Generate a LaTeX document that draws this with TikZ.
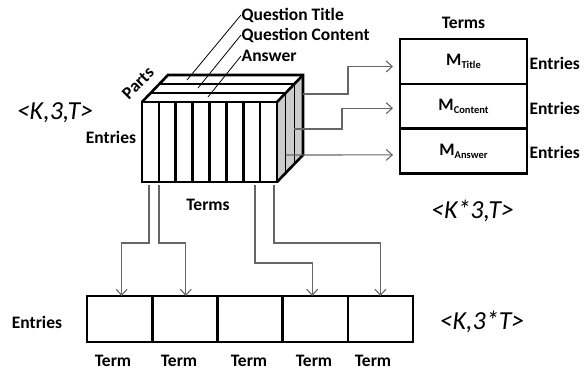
\documentclass[tikz,border=0pt]{standalone}
\usepackage{fontspec}
\setmainfont{Carlito}
\usepackage{tikz}
\usetikzlibrary{calc,arrows.meta,positioning}
\definecolor{sidegray}{RGB}{204,204,204}
\newcommand{\msub}[1]{M{\fontsize{10.5}{12}\selectfont\raisebox{-3pt}{#1}}}

\begin{document}
\begin{tikzpicture}[x=1pt,y=-1pt,>={Straight Barb[length=6pt,width=11pt]},
    lbl/.style={font=\fontsize{17.5}{19}\selectfont\bfseries,inner sep=0.5pt},
    tag/.style={font=\fontsize{26}{30}\selectfont\itshape,inner sep=0pt},
    cell/.style={draw,line width=2.6pt,minimum width=65.2pt,minimum height=46pt,inner sep=0pt,outer sep=0pt},
    mrow/.style={draw,line width=2.6pt,minimum width=127pt,minimum height=44.7pt,inner sep=0pt,outer sep=0pt,font=\fontsize{17.5}{19}\selectfont\bfseries},
    conn/.style={->,draw=black!60,line width=1.1pt}]
    \useasboundingbox (0,0) rectangle (587,370);
    \def\dx{26}\def\dy{27}\def\colw{16.875}
    % side and top faces of the cube
    \path[fill=sidegray] (277,102) -- (277+\dx,102-\dy) -- (277+\dx,182-\dy) -- (277,182) -- cycle;
    \path[fill=white] (142,102) -- (142+\dx,102-\dy) -- (277+\dx,102-\dy) -- (277,102) -- cycle;
    \foreach \f in {1/3,2/3} {
      \draw[line width=1.2pt] (142+\dx*\f,102-\dy*\f) -- (277+\dx*\f,102-\dy*\f);
      \draw[line width=1.2pt] (277+\dx*\f,102-\dy*\f) -- (277+\dx*\f,182-\dy*\f);
    }
    % front face with the term columns
    \fill[white] (142,102) rectangle (277,182);
    \foreach \i in {1,...,7}
      \draw[line width=2.6pt] (142+\colw*\i,102) -- (142+\colw*\i,182);
    \draw[line width=2.6pt,line join=miter] (142,102) rectangle (277,182);
    \draw[line width=2.6pt,line join=miter] (142,102) -- (142+\dx,102-\dy) -- (277+\dx,102-\dy)
      -- (277+\dx,182-\dy) -- (277,182);
    \draw[line width=2.6pt] (277,102) -- (277+\dx,102-\dy);
    % part labels
    \coordinate (pT) at (187,80);
    \coordinate (pC) at (198,88);
    \coordinate (pA) at (208,97);
    \node[lbl,anchor=west] (qTitle) at (241,15) {Question Title};
    \node[lbl,anchor=west] (qCont) at (241,35) {Question Content};
    \node[lbl,anchor=west] (qAns) at (241,56) {Answer};
    \draw[line width=0.8pt] (qTitle.west) -- (pT);
    \draw[line width=0.8pt] (qCont.west) -- (pC);
    \draw[line width=0.8pt] (qAns.west) -- (pA);
    \node[lbl,rotate=45] (parts) at (138,83) {Parts};
    \node[lbl] (eCube) at (111,137) {Entries};
    \node[lbl] (tCube) at (208,205) {Terms};
    \node[tag] (kTag) at (55,113) {<K,3,T>};
    % stacked matrices
    \node[mrow] (mT) at (463.5,61.5) {\msub{Title}};
    \node[mrow,below=0pt of mT] (mC) {\msub{Content}};
    \node[mrow,below=0pt of mC] (mA) {\msub{Answer}};
    \node[lbl,above=10pt of mT] (tTop) {Terms};
    \node[lbl,anchor=west] (eT) at ([xshift=2pt,yshift=-2pt]mT.east) {Entries};
    \node[lbl,anchor=west] (eC) at ([xshift=2pt,yshift=-2pt]mC.east) {Entries};
    \node[lbl,anchor=west] (eA) at ([xshift=2pt,yshift=-2pt]mA.east) {Entries};
    \node[tag] (kStack) at (472.5,211) {<K*3,T>};
    \coordinate (ct) at (277+\dx,94);
    \coordinate (cc) at (277+\dx*2/3,129);
    \coordinate (ca) at (277+\dx/3,155);
    \draw[conn] (ct) -- (348,94) |- ([xshift=-7pt,yshift=-5pt]mT.west);
    \draw[conn] (cc) -- (342,129) |- ([xshift=-7pt,yshift=-2pt]mC.west);
    \draw[conn] (ca) -- ([xshift=-7pt,yshift=-4pt]mA.west);
    % concatenated row
    \foreach \i in {1,...,5}
      \node[cell] (b\i) at (87+65.2*\i-32.6,319) {};
    \foreach \i/\tx in {1/113,2/179,3/249,4/314,5/373}
      \node[lbl] (t\i) at (\tx,361) {Term};
    \node[lbl] (eRow) at (37,322) {Entries};
    \node[tag] (kRow) at (482,322) {<K,3*T>};
    \coordinate (d1) at (149,185);
    \coordinate (d2) at (159,185);
    \coordinate (d3) at (255,185);
    \coordinate (d4) at (274,185);
    \draw[conn] (d1) -- ++(0,58) -| ([xshift=2pt]b1.north);
    \draw[conn] (d2) -- ++(0,58) -| ([xshift=1pt]b2.north);
    \draw[conn] (d3) -- ++(0,78) -| ([xshift=-3pt]b4.north);
    \draw[conn] (d4) -- ++(0,58) -| (b5.north);
\end{tikzpicture}
\end{document}
